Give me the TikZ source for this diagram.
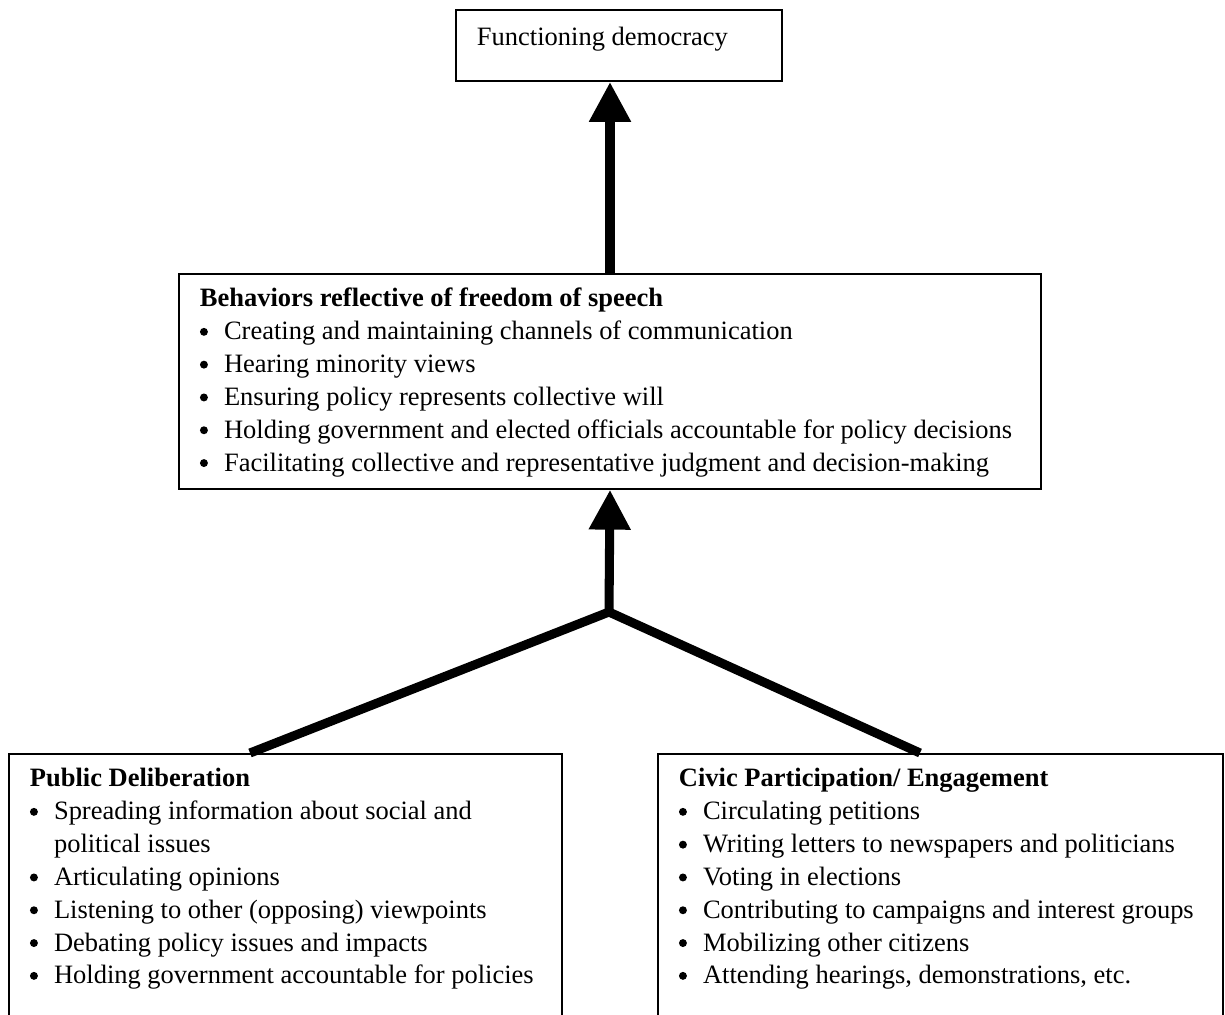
\documentclass[tikz,border=0pt]{standalone}
\usepackage{fontspec}
\setmainfont{Liberation Serif}
\usetikzlibrary{arrows.meta}
\newcommand{\boxfont}{\fontsize{12}{14.86}\selectfont}
\newcommand{\bul}[1]{\mbox{\makebox[10.9pt][l]{\tikz[baseline, x=1pt, y=1pt]\fill (2.7,3.6) circle[radius=1.8];}#1}}
\newcommand{\cont}[1]{\mbox{\hspace*{10.9pt}#1}}

\begin{document}
\begin{tikzpicture}[x=0.453pt, y=-0.453pt,
    box/.style={draw, line width=0.9pt, rectangle, anchor=north west, align=left,
        inner xsep=9.5pt, inner ysep=0pt, font=\boxfont,
        execute at begin node={\spaceskip=3pt\relax}},
    thickarrow/.style={line width=4.1pt, -{Triangle[length=18pt, width=18pt]}}]
    \useasboundingbox (0,0) rectangle (1225,1015);
    \node[box, text width=128.7pt, text height=15.9pt, text depth=16.3pt] (demo) at (455,9) {Functioning democracy};
    \node[box, text width=371.5pt, text height=14.95pt, text depth=82.4pt] (speech) at (178,273) {\textbf{Behaviors reflective of freedom of speech}\\
        \bul{Creating and maintaining channels of communication}\\
        \bul{Hearing minority views}\\
        \bul{Ensuring policy represents collective will}\\
        \bul{Holding government and elected officials accountable for policy decisions}\\
        \bul{Facilitating collective and representative judgment and decision-making}};
    \node[box, text width=231.5pt, text height=14.95pt, text depth=115pt] (delib) at (8,753) {\textbf{Public Deliberation}\\
        \bul{Spreading information about social and}\\
        \cont{political issues}\\
        \bul{Articulating opinions}\\
        \bul{Listening to other (opposing) viewpoints}\\
        \bul{Debating policy issues and impacts}\\
        \bul{Holding government accountable for policies}};
    \node[box, text width=236.9pt, text height=14.95pt, text depth=115pt] (civic) at (657,753) {\textbf{Civic Participation/ Engagement}\\
        \bul{Circulating petitions}\\
        \bul{Writing letters to newspapers and politicians}\\
        \bul{Voting in elections}\\
        \bul{Contributing to campaigns and interest groups}\\
        \bul{Mobilizing other citizens}\\
        \bul{Attending hearings, demonstrations, etc.}};
    % branches meet below the middle box
    \coordinate (join) at (609,612);
    \coordinate (dtop) at (250,753);
    \coordinate (ctop) at (920,753);
    \draw[line width=4.1pt] (dtop) -- (join) -- (ctop);
    \draw[thickarrow] (join) -- (speech.south);
    \draw[thickarrow] (speech.north) -- (speech.north |- demo.south);
\end{tikzpicture}
\end{document}
